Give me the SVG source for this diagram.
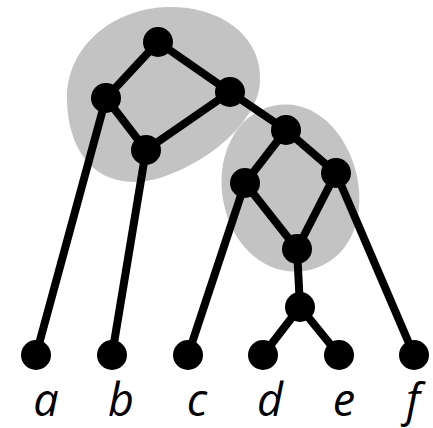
<svg xmlns="http://www.w3.org/2000/svg" width="433" height="428" viewBox="0 0 433 428">
<style>
.blob{fill:#c3c3c3;stroke:none}
.edge{stroke:#000;stroke-width:8;fill:none;stroke-linecap:round}
.node{fill:#000}
.lbl{font-family:"Open Sans","Liberation Sans",Arial,sans-serif;font-style:italic;font-size:45px;fill:#000;text-anchor:middle}
</style>
<rect width="433" height="428" fill="#fff"/>
<g id="blobs">
<path class="blob" d="M67,100 C66,45 115,8 168,7 C225,6 263,40 260,82 C258,118 215,160 160,178 C100,195 68,155 67,100 Z"/>
<path class="blob" transform="rotate(-12 291 188)" d="M291,104 C332,104 358,145 358,190 C358,235 332,272 291,272 C250,272 222,235 222,190 C222,145 250,104 291,104 Z"/>
</g>
<g id="connectors">
<line class="edge" x1="158" y1="42" x2="106" y2="98"/>
<line class="edge" x1="158" y1="42" x2="230" y2="92"/>
<line class="edge" x1="106" y1="98" x2="146" y2="150"/>
<line class="edge" x1="230" y1="92" x2="146" y2="150"/>
<line class="edge" x1="230" y1="92" x2="286" y2="130"/>
<line class="edge" x1="106" y1="98" x2="36" y2="355"/>
<line class="edge" x1="146" y1="150" x2="112" y2="355"/>
<line class="edge" x1="286" y1="130" x2="245" y2="183"/>
<line class="edge" x1="286" y1="130" x2="336" y2="173"/>
<line class="edge" x1="245" y1="183" x2="297" y2="249"/>
<line class="edge" x1="336" y1="173" x2="297" y2="249"/>
<line class="edge" x1="245" y1="183" x2="188" y2="355"/>
<line class="edge" x1="336" y1="173" x2="414" y2="355"/>
<line class="edge" x1="297" y1="249" x2="300" y2="307"/>
<line class="edge" x1="300" y1="307" x2="263" y2="355"/>
<line class="edge" x1="300" y1="307" x2="339" y2="355"/>
</g>
<g id="n_top"><circle class="node" cx="158" cy="42" r="15"/></g>
<g id="n_l1"><circle class="node" cx="106" cy="98" r="15"/></g>
<g id="n_r1"><circle class="node" cx="230" cy="92" r="15"/></g>
<g id="n_m1"><circle class="node" cx="146" cy="150" r="15"/></g>
<g id="n_t2"><circle class="node" cx="286" cy="130" r="15"/></g>
<g id="n_l2"><circle class="node" cx="245" cy="183" r="15"/></g>
<g id="n_r2"><circle class="node" cx="336" cy="173" r="15"/></g>
<g id="n_b2"><circle class="node" cx="297" cy="249" r="15"/></g>
<g id="n_de"><circle class="node" cx="300" cy="307" r="15"/></g>
<g id="leaf_a"><circle class="node" cx="36" cy="355" r="15"/><text class="lbl" x="46" y="416">a</text></g>
<g id="leaf_b"><circle class="node" cx="112" cy="355" r="15"/><text class="lbl" x="121" y="416">b</text></g>
<g id="leaf_c"><circle class="node" cx="188" cy="355" r="15"/><text class="lbl" x="197" y="416">c</text></g>
<g id="leaf_d"><circle class="node" cx="263" cy="355" r="15"/><text class="lbl" x="270" y="416">d</text></g>
<g id="leaf_e"><circle class="node" cx="339" cy="355" r="15"/><text class="lbl" x="344" y="416">e</text></g>
<g id="leaf_f"><circle class="node" cx="414" cy="355" r="15"/><text class="lbl" x="413" y="416">f</text></g>
</svg>
